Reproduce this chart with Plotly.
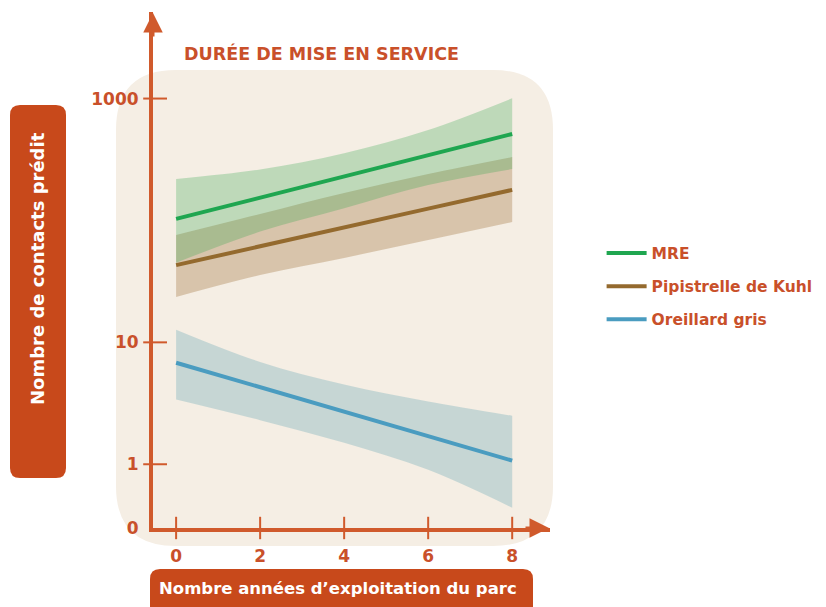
import plotly.graph_objects as go

# years of operation
years = [0, 2, 4, 6, 8]

# predicted contacts (log scale)
mre_fit = [103, 154, 230, 343, 512]
mre_upper = [219, 262, 356, 552, 1005]
mre_lower = [45, 81, 126, 195, 264]

pip_fit = [43, 61, 87, 125, 178]
pip_upper = [76, 113, 168, 240, 331]
pip_lower = [23.6, 35.7, 49.3, 69, 97]

ore_fit = [6.8, 4.3, 2.7, 1.7, 1.07]
ore_upper = [12.7, 6.9, 4.5, 3.27, 2.5]
ore_lower = [3.4, 2.3, 1.5, 0.9, 0.44]

y_ticks = [0.3, 1, 10, 1000]
y_ticktext = ['0', '1', '10', '1000']
x_ticks = [0, 2, 4, 6, 8]

ORANGE = '#D05A2C'
TEXT = '#C9502A'
DARK_ORANGE = '#C8491B'
FONT = 'DejaVu Sans'

# plot-area edges in page pixels; the page body adds an 8px offset
OFF = 8
L, R, T, B = 153, 550, 12, 528


def px(x, y):
    return (x - L) / (R - L), (B - y) / (B - T)


def rounded_box(x0, y0, x1, y1, r):
    ax, ay = px(x0, y0)
    bx, by = px(x1, y1)
    rx = r / (R - L)
    ry = r / (B - T)
    return (f'M {ax + rx},{ay} L {bx - rx},{ay} Q {bx},{ay} {bx},{ay - ry} '
            f'L {bx},{by + ry} Q {bx},{by} {bx - rx},{by} '
            f'L {ax + rx},{by} Q {ax},{by} {ax},{by + ry} '
            f'L {ax},{ay - ry} Q {ax},{ay} {ax + rx},{ay} Z')


fig = go.Figure()


def band(upper, lower, rgba):
    fig.add_trace(go.Scatter(x=years, y=lower, mode='lines', line=dict(width=0, shape='spline'),
                             hoverinfo='skip', showlegend=False))
    fig.add_trace(go.Scatter(x=years, y=upper, mode='lines', line=dict(width=0, shape='spline'),
                             fill='tonexty', fillcolor=rgba, hoverinfo='skip', showlegend=False))


band(pip_upper, pip_lower, 'rgba(150,100,40,0.30)')
band(mre_upper, mre_lower, 'rgba(45,165,75,0.28)')
band(ore_upper, ore_lower, 'rgba(75,150,170,0.27)')

fig.add_trace(go.Scatter(x=years, y=mre_fit, name='MRE', mode='lines', legendgroup='a',
                         line=dict(color='#1FA650', width=4)))
fig.add_trace(go.Scatter(x=years, y=pip_fit, name='Pipistrelle de Kuhl', mode='lines', legendgroup='b',
                         line=dict(color='#946A2E', width=4)))
fig.add_trace(go.Scatter(x=years, y=ore_fit, name='Oreillard gris', mode='lines', legendgroup='c',
                         line=dict(color='#4A9CC0', width=4)))

# tick crosses on the hand-drawn axes
fig.add_trace(go.Scatter(x=[-0.5] * 3, y=y_ticks[1:], mode='markers', cliponaxis=False,
                         marker=dict(symbol='line-ew-open', size=17, color=ORANGE,
                                     line=dict(color=ORANGE, width=2)),
                         hoverinfo='skip', showlegend=False))
fig.add_trace(go.Scatter(x=x_ticks, y=[0.3] * 5, mode='markers', cliponaxis=False,
                         marker=dict(symbol='line-ns-open', size=16, color=ORANGE,
                                     line=dict(color=ORANGE, width=2)),
                         hoverinfo='skip', showlegend=False))

shapes = [
    dict(type='path', xref='paper', yref='paper', layer='below', line=dict(width=0),
         fillcolor='#F5EEE4', path=rounded_box(116, 70, 553, 546, 60)),
    dict(type='path', xref='paper', yref='paper', layer='below', line=dict(width=0),
         fillcolor=DARK_ORANGE, path=rounded_box(10, 105, 66, 478, 10)),
    dict(type='path', xref='paper', yref='paper', layer='below', line=dict(width=0),
         fillcolor=DARK_ORANGE, path=rounded_box(150, 569, 533, 620, 10)),
]

annotations = [
    dict(text='DURÉE DE MISE EN SERVICE', xref='paper', yref='paper', x=px(182, 0)[0], y=px(0, 53)[1],
         xanchor='left', yanchor='middle', showarrow=False,
         font=dict(family=FONT, size=17.5, color=TEXT, weight='bold')),
    dict(text='Nombre de contacts prédit', xref='paper', yref='paper', x=px(37, 0)[0], y=px(0, 269)[1],
         xanchor='center', yanchor='middle', textangle=-90, showarrow=False,
         font=dict(family=FONT, size=18, color='white', weight='bold')),
    dict(text='Nombre années d’exploitation du parc', xref='paper', yref='paper',
         x=px(338, 0)[0], y=px(0, 588)[1], xanchor='center', yanchor='middle', showarrow=False,
         font=dict(family=FONT, size=16.5, color='white', weight='bold')),
    # arrowheads
    dict(x=px(153, 0)[0], y=px(0, 13)[1], xref='paper', yref='paper', ax=0, ay=25,
         showarrow=True, arrowhead=2, arrowsize=1.3, arrowwidth=3, arrowcolor=ORANGE, text=''),
    dict(x=px(549, 0)[0], y=px(0, 528)[1], xref='paper', yref='paper', ax=-25, ay=0,
         showarrow=True, arrowhead=2, arrowsize=1.3, arrowwidth=3, arrowcolor=ORANGE, text=''),
]

fig.update_layout(
    width=826, height=607,
    margin=dict(l=L - OFF, r=826 - R + OFF, t=T - OFF, b=607 - B + OFF),
    paper_bgcolor='white', plot_bgcolor='rgba(0,0,0,0)',
    shapes=shapes, annotations=annotations,
    xaxis=dict(range=[-0.55, 8.9], showgrid=False, zeroline=False, showline=True,
               linecolor=ORANGE, linewidth=4, tickvals=x_ticks, ticks='outside',
               ticklen=10, tickcolor='rgba(0,0,0,0)',
               tickfont=dict(family=FONT, size=17, color=TEXT, weight='bold')),
    yaxis=dict(type='log', range=[-0.523, 3.71], showgrid=False, zeroline=False, showline=True,
               linecolor=ORANGE, linewidth=4, tickvals=y_ticks, ticktext=y_ticktext,
               ticks='outside', ticklen=7, tickcolor='rgba(0,0,0,0)',
               tickfont=dict(family=FONT, size=17, color=TEXT, weight='bold')),
    legend=dict(x=1.13, y=0.565, xanchor='left', yanchor='top', bgcolor='rgba(0,0,0,0)',
                tracegroupgap=10, itemwidth=40,
                font=dict(family=FONT, size=15.5, color=TEXT, weight='bold')),
)

fig.write_html('out.html')
